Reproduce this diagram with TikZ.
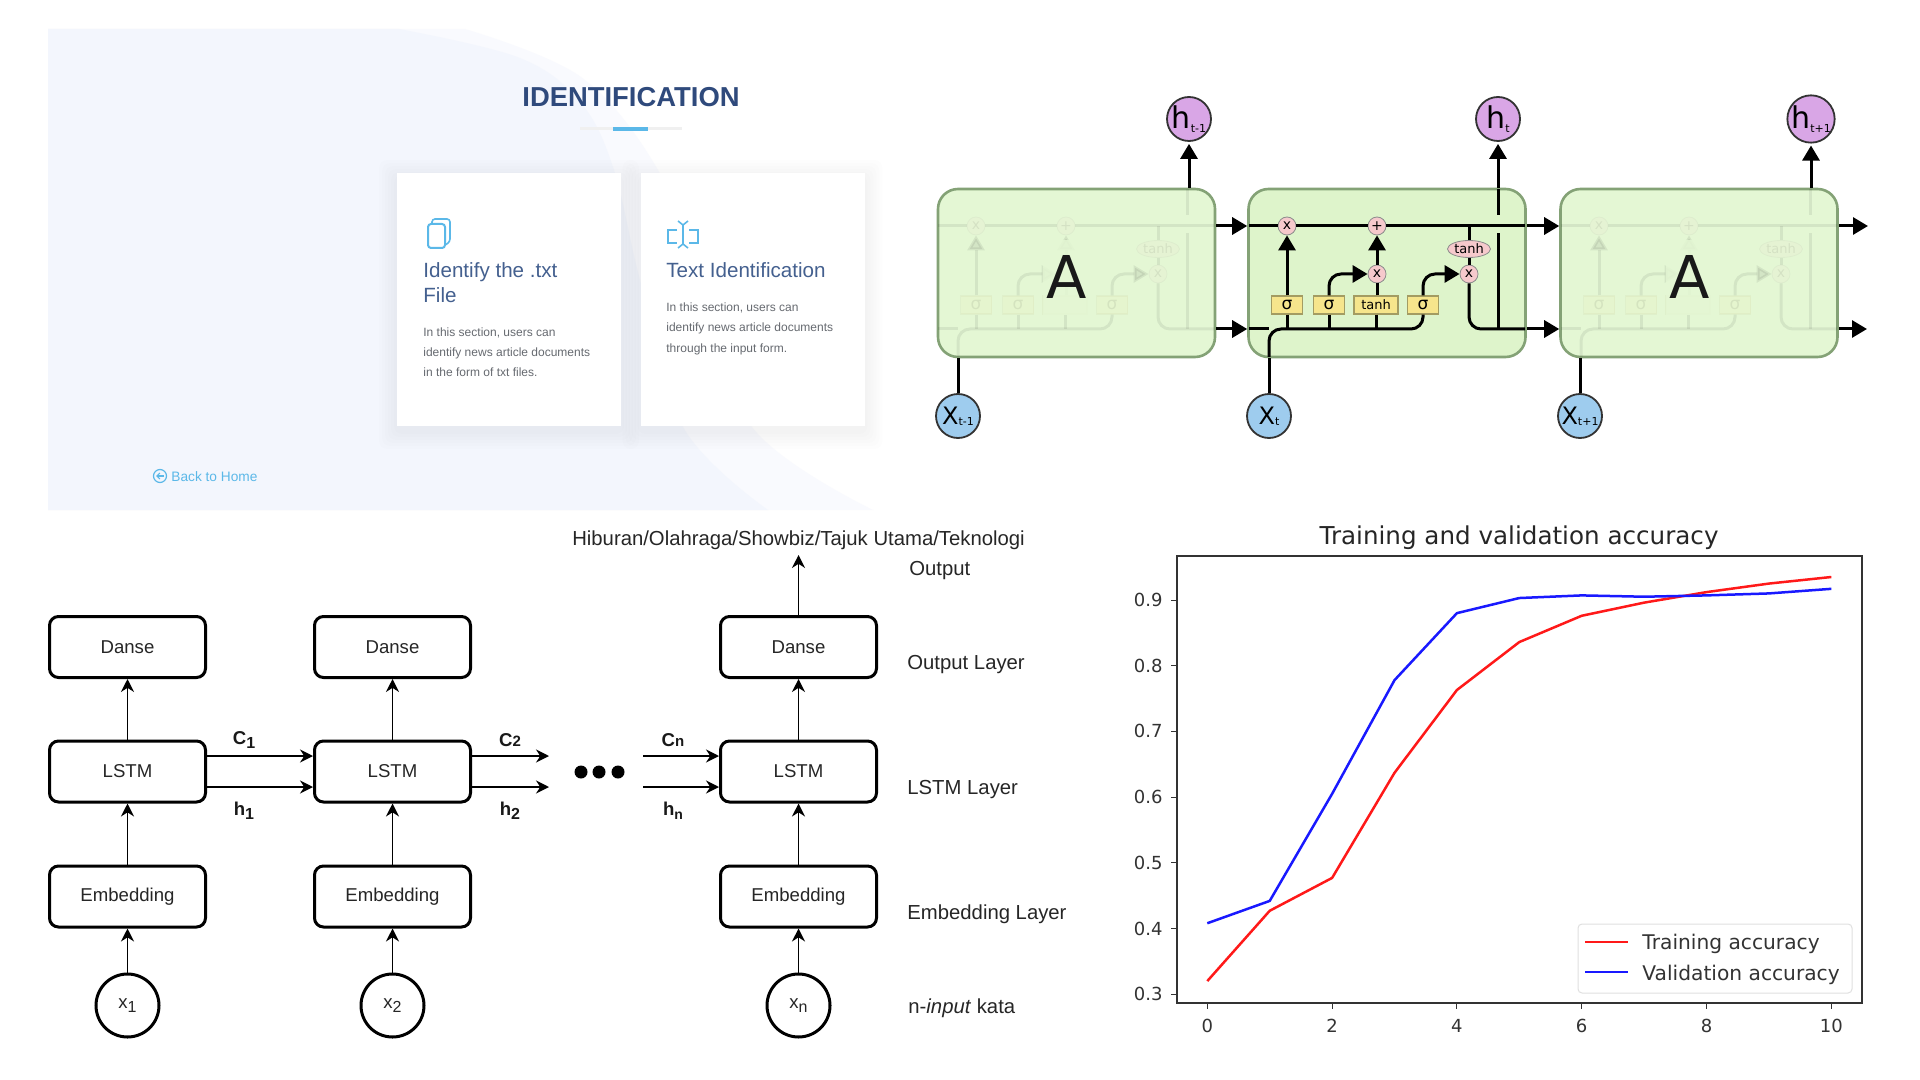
\documentclass[tikz,border=0pt]{standalone}
\usepackage{fontspec}
\setmainfont{Liberation Sans}
\newfontfamily\dvs{DejaVu Sans}
\usetikzlibrary{arrows.meta,shapes.geometric}
\newcommand{\fsz}[1]{\fontsize{#1}{#1}\selectfont}
\definecolor{panelA}{HTML}{F3F6FD}
\definecolor{panelB}{HTML}{F9FAFE}
\definecolor{navy}{HTML}{2F4A7C}
\definecolor{headc}{HTML}{44608F}
\definecolor{bodyc}{HTML}{666A70}
\definecolor{sky}{HTML}{5BB8E8}
\definecolor{cellg}{HTML}{E4F7D4}
\definecolor{cellm}{HTML}{DEF4CB}
\definecolor{celle}{HTML}{84A276}
\definecolor{pinkc}{HTML}{F6C9CC}
\definecolor{yelc}{HTML}{F6E58C}
\definecolor{yele}{HTML}{A39C62}
\definecolor{purc}{HTML}{D9A6E6}
\definecolor{bluec}{HTML}{9ECCEE}
\tikzset{
  cardbox/.style={fill=white,draw=none},
  cardhead/.style={anchor=base west,text=headc,font=\fsz{10.3},inner sep=0},
  cardbody/.style={anchor=base west,text=bodyc,font=\fsz{6},inner sep=0},
  cellbox/.style={draw=celle,line width=1.3pt,fill=cellg,rounded corners=10pt,minimum width=138.5pt,minimum height=84pt,inner sep=0},
  opnode/.style={circle,draw=black!45,line width=.4pt,fill=pinkc,minimum size=9pt,inner sep=0,font=\dvs\fsz{7}},
  sigbox/.style={draw=yele,line width=.6pt,fill=yelc,minimum width=15.5pt,minimum height=9pt,inner sep=0,font=\dvs\fsz{8.5}},
  tanhbox/.style={sigbox,minimum width=22pt,font=\dvs\fsz{6.5}},
  tanhell/.style={ellipse,draw=black!45,line width=.4pt,fill=pinkc,minimum width=21.5pt,minimum height=8.5pt,inner sep=0,font=\dvs\fsz{6.5}},
  wire/.style={line width=1.5pt,black},
  wirearrow/.style={wire,-{Triangle[length=7.5pt,width=8.5pt]}},
  termh/.style={circle,draw=black!80,line width=.9pt,fill=purc,minimum size=22pt,inner sep=0,font=\dvs\fsz{15}},
  termx/.style={circle,draw=black!80,line width=.9pt,fill=bluec,minimum size=22pt,inner sep=0,font=\dvs\fsz{12}},
  netbox/.style={draw=black,line width=1.5pt,rounded corners=4.5pt,minimum width=78pt,minimum height=30.5pt,inner sep=0,font=\fsz{9.3},text=black!85},
  netcirc/.style={draw=black,line width=1.5pt,circle,minimum size=31.5pt,inner sep=0,font=\fsz{9.3},text=black!85},
  netarrow/.style={line width=.8pt,black,-{Stealth[length=6.5pt,width=6.5pt]}},
  netlab/.style={anchor=base west,inner sep=0,font=\fsz{10.15},text=black!85},
  statelab/.style={inner sep=0,font=\bfseries\fsz{9.3},text=black!90},
  dotn/.style={circle,fill=black,minimum size=6.5pt,inner sep=0},
  tickl/.style={inner sep=0,font=\dvs\fsz{9},text=black!80},
  legt/.style={anchor=west,inner sep=0,font=\dvs\fsz{10.1},text=black!80}
}
% #1 prefix, #2 horizontal shift in px, #3 opacity, #4 text of the tanh box, #5 text of the second product
\newcommand{\lstmcore}[5]{%
\begin{scope}[xshift=#2*0.5pt,opacity=#3]
  \coordinate (#1lt) at (1249,226);
  \coordinate (#1rt) at (1525,226);
  \coordinate (#1lb) at (1249,329);
  \coordinate (#1rb) at (1525,329);
  \coordinate (#1xin) at (1269,357);
  \coordinate (#1cor) at (1269,329);
  \coordinate (#1hbot) at (1498,329);
  \coordinate (#1hlow) at (1498,233);
  \coordinate (#1hupp) at (1498,215);
  \coordinate (#1htop) at (1498,189);
  \node[opnode] (#1x1) at (1287,226) {x};
  \node[opnode] (#1p1) at (1377,226) {+};
  \node[opnode] (#1x2) at (1377,274) {#5};
  \node[opnode] (#1x3) at (1469,274) {x};
  \node[tanhell] (#1th) at (1469,249) {tanh};
  \node[sigbox] (#1s1) at (1287,305) {σ};
  \node[sigbox] (#1s2) at (1329,305) {σ};
  \node[tanhbox] (#1tb) at (1376,305) {#4};
  \node[sigbox] (#1s4) at (1423,305) {σ};
  \draw[wire] (#1lt) -- (#1x1) -- (#1p1) -- (#1rt);
  \draw[wire] (#1lb) -- (#1cor);
  \draw[wire,rounded corners=6pt] (#1xin) -- (#1cor) -- (#1s4.south |- #1cor) -- (#1s4.south);
  \draw[wire] (#1s1.south) -- (#1s1.south |- #1cor);
  \draw[wire] (#1s2.south) -- (#1s2.south |- #1cor);
  \draw[wire] (#1tb.south) -- (#1tb.south |- #1cor);
  \draw[wirearrow] (#1s1) -- (#1x1);
  \draw[wirearrow,rounded corners=6pt] (#1s2.north) |- (#1x2.west);
  \draw[wirearrow,rounded corners=6pt] (#1s4.north) |- (#1x3.west);
  \draw[wire] (#1tb.north -| #1x2) -- (#1x2);
  \draw[wirearrow] (#1x2) -- (#1p1);
  \draw[wire] (#1th.north) -- (#1th.north |- #1lt);
  \draw[wire] (#1th) -- (#1x3);
  \draw[wire,rounded corners=6pt] (#1x3.south) |- (#1rb);
  \draw[wire] (#1hbot) -- (#1hlow);
  \draw[wire] (#1hupp) -- (#1htop);
\end{scope}}
\begin{document}
\begin{tikzpicture}[x=0.5pt,y=-0.5pt]
\useasboundingbox (0,0) rectangle (1920,1080);
\fill[white] (0,0) rectangle (1920,1080);
% ---------- web page panel ----------
\fill[panelB] (48,510) -- (48,29) -- plot[smooth,tension=.6] coordinates {(465,29) (581,77) (658,170) (700,280) (752,427) (873,510)} -- cycle;
\fill[panelA] (48,510) -- (48,29) -- plot[smooth,tension=.6] coordinates {(399,29) (520,58) (581,103) (614,170) (640,280) (683,427) (768,510)} -- cycle;
\foreach \s in {3,6,9,12,15,18}{
  \fill[black,opacity=.006,rounded corners=4pt] (397-\s,173-\s+5) rectangle (621+\s,426+\s+5);
  \fill[black,opacity=.006,rounded corners=4pt] (640.5-\s,173-\s+5) rectangle (864.5+\s,426+\s+5);
}
\node[text=navy,font=\bfseries\fsz{13.7},inner sep=0] (title) at (631,97) {IDENTIFICATION};
\fill[black!6] (580,127.5) rectangle (682,130);
\fill[sky] (613,127) rectangle (648,131);
\fill[cardbox] (397,173) rectangle (621,426);
\fill[cardbox] (640.5,173) rectangle (864.5,426);
% icon 1
\draw[sky,line width=1pt,rounded corners=1.5pt] (428,224) rectangle (445,248);
\draw[sky,line width=.8pt,rounded corners=1.5pt] (432,224) -- (432,219) -- (450,219) -- (450,242) -- (445,245);
% icon 2
\draw[sky,line width=.9pt] (677,230) -- (668,230) -- (668,243) -- (677,243);
\draw[sky,line width=.9pt] (689,230) -- (698,230) -- (698,243) -- (689,243);
\draw[sky,line width=.9pt] (683,224) -- (683,245);
\draw[sky,line width=.8pt] (678,221) -- (683,225) -- (688,221);
\draw[sky,line width=.8pt] (678,248) -- (683,244) -- (688,248);
\node[cardhead] (h1a) at (423,278) {Identify the .txt};
\node[cardhead] (h1b) at (423,303) {File};
\node[cardbody] (b1a) at (423,336) {In this section, users can};
\node[cardbody] (b1b) at (423,356.5) {identify news article documents};
\node[cardbody] (b1c) at (423,376.5) {in the form of txt files.};
\node[cardhead] (h2a) at (666,278) {Text Identification};
\node[cardbody] (b2a) at (666,311.5) {In this section, users can};
\node[cardbody] (b2b) at (666,332) {identify news article documents};
\node[cardbody] (b2c) at (666,352) {through the input form.};
\draw[sky,line width=.6pt] (160,476) circle (6.5);
\draw[sky,line width=.6pt,-{Straight Barb[length=1.5pt,width=3pt]}] (164,476) -- (156,476);
\node[anchor=base west,text=sky,font=\fsz{6.85},inner sep=0] (back) at (171,481) {Back to Home};
% ---------- LSTM chain ----------
\node[cellbox] (A1) at (1076.5,273) {};
\node[cellbox,fill=cellm] (A2) at (1387,273) {};
\node[cellbox] (A3) at (1699,273) {};
\lstmcore{g1}{-311}{0.07}{}{}
\lstmcore{g3}{312}{0.07}{}{}
\lstmcore{m}{0}{1}{tanh}{x}
\fill[cellg,opacity=.85] (1043,240) rectangle (1090,315);
\fill[cellg,opacity=.85] (1666,240) rectangle (1713,315);
\node[font=\dvs\fsz{29.5},text=black!90,inner sep=0] (lA1) at (1067,277) {A};
\node[font=\dvs\fsz{29.5},text=black!90,inner sep=0] (lA3) at (1690,277) {A};
\node[termh] (h1) at (1189,119) {h\raisebox{-.2ex}{\fsz{5.5}t-1}};
\node[termh] (h2) at (1498,119) {h\raisebox{-.2ex}{\fsz{5.5}t}};
\node[termh] (h3) at (1811,119) {h\raisebox{-.2ex}{\fsz{5.5}t+1}};
\node[termx] (x1) at (958,416) {X\raisebox{-.1ex}{\fsz{5.5}t-1}};
\node[termx] (x2) at (1269,416) {X\raisebox{-.1ex}{\fsz{5.5}t}};
\node[termx] (x3) at (1580,416) {X\raisebox{-.1ex}{\fsz{5.5}t+1}};
\draw[wirearrow,shorten >=1pt] (h1 |- A1.north) -- (h1);
\draw[wirearrow,shorten >=1pt] (h2 |- A2.north) -- (h2);
\draw[wirearrow,shorten >=1pt] (h3 |- A3.north) -- (h3);
\draw[wire] (x1) -- (x1 |- A1.south);
\draw[wire] (x2) -- (x2 |- A2.south);
\draw[wire] (x3) -- (x3 |- A3.south);
\draw[wirearrow] (A1.east |- mlt) -- (A2.west |- mlt);
\draw[wirearrow] (A1.east |- mlb) -- (A2.west |- mlb);
\draw[wirearrow] (A2.east |- mlt) -- (A3.west |- mlt);
\draw[wirearrow] (A2.east |- mlb) -- (A3.west |- mlb);
\coordinate (endtop) at (1868,226);
\coordinate (endbot) at (1867,329);
\draw[wirearrow] (A3.east |- endtop) -- (endtop);
\draw[wirearrow] (A3.east |- endbot) -- (endbot);
% ---------- network diagram ----------
\foreach \n/\cx/\lab in {a/127.5/1,b/392.5/2,c/798.5/n}{
  \node[netbox] (\n D) at (\cx,647) {Danse};
  \node[netbox] (\n L) at (\cx,771.5) {LSTM};
  \node[netbox] (\n E) at (\cx,896.5) {Embedding};
  \node[netcirc] (\n X) at (\cx,1005.5) {x\raisebox{-.45ex}{\fsz{8}\lab}};
  \draw[netarrow] (\n X) -- (\n E);
  \draw[netarrow] (\n E) -- (\n L);
  \draw[netarrow] (\n L) -- (\n D);
}
\coordinate (outTip) at (798.5,555);
\draw[netarrow] (cD) -- (outTip);
\coordinate (c2end) at (549,756);
\coordinate (h2end) at (549,787);
\coordinate (cnstart) at (643,756);
\coordinate (hnstart) at (643,787);
\draw[netarrow] (aL.east |- c2end) -- (bL.west |- c2end);
\draw[netarrow] (aL.east |- h2end) -- (bL.west |- h2end);
\draw[netarrow] (bL.east |- c2end) -- (c2end);
\draw[netarrow] (bL.east |- h2end) -- (h2end);
\draw[netarrow] (cnstart) -- (cL.west |- cnstart);
\draw[netarrow] (hnstart) -- (cL.west |- hnstart);
\node[dotn] (d1) at (581,772) {};
\node[dotn] (d2) at (599,772) {};
\node[dotn] (d3) at (618,772) {};
\node[statelab] (c1l) at (244,740) {C\raisebox{-.35ex}{\fsz{8}1}};
\node[statelab] (h1l) at (244,811) {h\raisebox{-.45ex}{\fsz{8}1}};
\node[statelab] (c2l) at (510,740) {C\fsz{7.5}2};
\node[statelab] (h2l) at (510,811) {h\raisebox{-.45ex}{\fsz{8}2}};
\node[statelab] (cnl) at (673,740) {C\fsz{7.5}n};
\node[statelab] (hnl) at (673,811) {h\raisebox{-.45ex}{\fsz{7}n}};
\node[font=\fsz{10.15},text=black!85,inner sep=0] (cats) at (798.5,540) {Hiburan/Olahraga/Showbiz/Tajuk Utama/Teknologi};
\node[netlab] (lo) at (909,575.5) {Output};
\node[netlab] (lol) at (907,669) {Output Layer};
\node[netlab] (lll) at (907,794) {LSTM Layer};
\node[netlab] (lel) at (907,919) {Embedding Layer};
\node[netlab] (lin) at (908,1013) {n-\textit{input} kata};
% ---------- accuracy chart ----------
\node[font=\dvs\fsz{12.3},text=black!85,inner sep=0] (ctitle) at (1519,538) {Training and validation accuracy};
\begin{scope}[shift={(1207.3,1191.3)},x=31.2pt,y=328.5pt]
  \draw[red!90!white,line width=1.25pt,line join=round] plot coordinates {(0,.32) (1,.427) (2,.477) (3,.637) (4,.763) (5,.836) (6,.876) (7,.896) (8,.912) (9,.925) (10,.935)};
  \draw[blue!90!white,line width=1.25pt,line join=round] plot coordinates {(0,.408) (1,.442) (2,.605) (3,.778) (4,.88) (5,.903) (6,.907) (7,.905) (8,.907) (9,.91) (10,.917)};
\end{scope}
\draw[black!80,line width=.6pt] (1177,556) rectangle (1862,1003);
\foreach \k in {0,2,4,6,8,10}{
  \draw[black!80,line width=.5pt] ({1207.3+\k*62.4},1003) -- ({1207.3+\k*62.4},1009);
  \node[tickl] at ({1207.3+\k*62.4},1026) {\k};
}
\foreach \k/\v in {0/0.9,1/0.8,2/0.7,3/0.6,4/0.5,5/0.4,6/0.3}{
  \draw[black!80,line width=.5pt] (1171,{600+\k*65.7}) -- (1177,{600+\k*65.7});
  \node[tickl,anchor=east] at (1163,{600+\k*65.7}) {\v};
}
\draw[black!12,fill=white,line width=.5pt,rounded corners=2pt] (1578,924) rectangle (1852,993);
\draw[red!90!white,line width=1.25pt] (1585,942) -- (1628,942);
\draw[blue!90!white,line width=1.25pt] (1585,972) -- (1628,972);
\node[legt] (lt1) at (1642,944) {Training accuracy};
\node[legt] (lt2) at (1642,975) {Validation accuracy};
\end{tikzpicture}
\end{document}
